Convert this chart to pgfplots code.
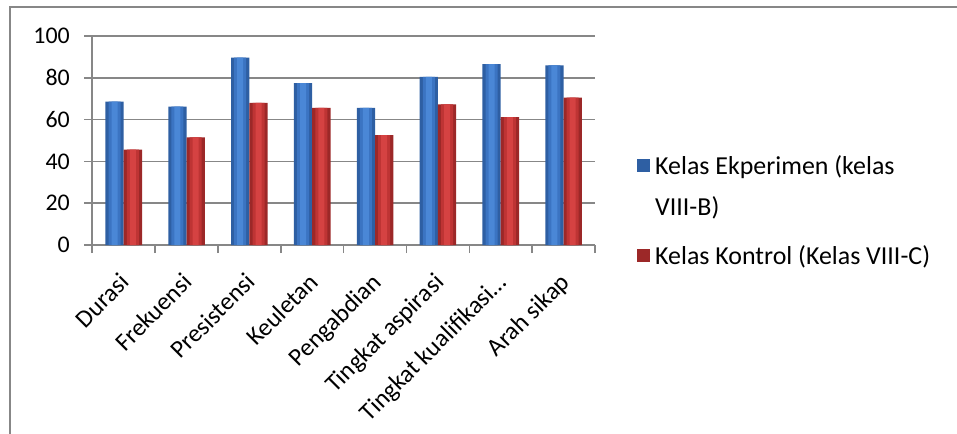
\documentclass[border=0pt]{standalone}
\usepackage{fontspec}
\setmainfont{Carlito}
\usepackage{pgfplots}
\usepackage{pgfplotstable}
\pgfplotsset{compat=1.18}
\definecolor{gridgray}{HTML}{878787}
\definecolor{blueD}{HTML}{2E5FA3}
\definecolor{blueM}{HTML}{3B74C2}
\definecolor{blueL}{HTML}{4A87D6}
\definecolor{redD}{HTML}{9C2828}
\definecolor{redM}{HTML}{BE3434}
\definecolor{redL}{HTML}{D54242}
\pgfplotstableread{
x    a     b
0.5  68.6  45.6
1.5  66.2  51.5
2.5  89.7  68.0
3.5  77.4  65.6
4.5  65.6  52.6
5.5  80.4  67.3
6.5  86.5  61.2
7.5  86.0  70.5
}\datatable
\begin{document}
\begin{tikzpicture}
\useasboundingbox (0bp,0bp) rectangle (957bp,-434bp);
\draw[gridgray, line width=2bp] (9.5bp,-434bp) -- (9.5bp,-7.2bp) -- (957bp,-7.2bp);
\begin{axis}[
  at={(92.3bp,-245bp)}, anchor=south west,
  scale only axis, width=502.7bp, height=209bp,
  xmin=0, xmax=8, ymin=0, ymax=100,
  axis x line*=bottom, axis y line*=left,
  axis line style={gridgray, line width=1.6bp},
  ymajorgrids, grid style={gridgray, line width=1.6bp},
  ytick={0,20,40,60,80,100},
  xtick={0.5,1.5,2.5,3.5,4.5,5.5,6.5,7.5},
  xticklabels={Durasi,Frekuensi,Presistensi,Keuletan,Pengabdian,Tingkat aspirasi,Tingkat kualifikasi\ldots,Arah sikap},
  minor xtick={0,1,2,3,4,5,6,7,8},
  tick align=outside,
  major tick length=8bp, minor tick length=8bp,
  major x tick style={draw=none},
  minor x tick style={gridgray, line width=1.6bp},
  y tick style={gridgray, line width=1.6bp},
  /pgf/number format/assume math mode=true,
  yticklabel style={font=\fontsize{24}{28}\selectfont, text=black, xshift=-11bp},
  xticklabel style={font=\fontsize{25}{30}\selectfont, text=black, xshift=-5bp, yshift=-17bp, rotate=45, anchor=north east, inner sep=1bp},
  legend style={at={(1.084,0.438)}, anchor=north west, draw=none, fill=none, inner sep=0pt, outer sep=0pt,
    font=\fontsize{26}{41}\selectfont, cells={anchor=west, inner sep=1bp}, row sep=65bp, column sep=3bp},
  legend image code/.code={\path[#1, draw=none] (0bp,-6.5bp) rectangle (13bp,6.5bp);},
]
\addplot[ybar, bar width=18.3bp, bar shift=-9.15bp, fill=blueD, draw=none] table[x=x, y=a] {\datatable};
\addlegendentry{\raisebox{0pt}[19.5bp][6.5bp]{\begin{tabular}[t]{@{}l@{}}Kelas Ekperimen (kelas\\VIII-B)\end{tabular}}}
\addplot[ybar, bar width=18.3bp, bar shift=9.15bp, fill=redD, draw=none] table[x=x, y=b] {\datatable};
\addlegendentry{Kelas Kontrol (Kelas VIII-C)}
\addplot[ybar, forget plot, bar width=12bp, bar shift=-9.15bp, fill=blueM, draw=none] table[x=x, y=a] {\datatable};
\addplot[ybar, forget plot, bar width=6bp, bar shift=-9.15bp, fill=blueL, draw=none] table[x=x, y=a] {\datatable};
\addplot[ybar, forget plot, bar width=12bp, bar shift=9.15bp, fill=redM, draw=none] table[x=x, y=b] {\datatable};
\addplot[ybar, forget plot, bar width=6bp, bar shift=9.15bp, fill=redL, draw=none] table[x=x, y=b] {\datatable};
\end{axis}
\end{tikzpicture}
\end{document}
